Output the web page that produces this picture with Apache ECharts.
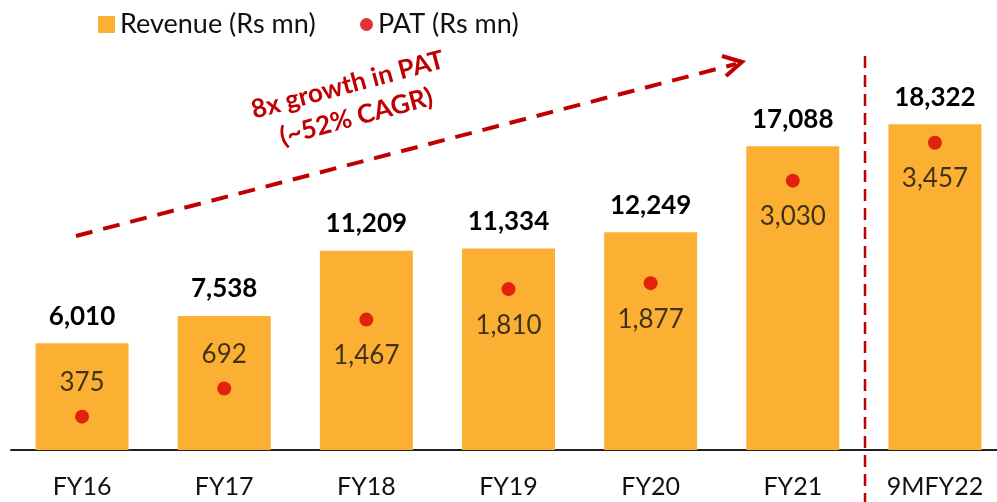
<!DOCTYPE html>
<html>
<head>
<meta charset="utf-8">
<script src="https://cdn.jsdelivr.net/npm/echarts@6/dist/echarts.min.js"></script>
<style>
  html, body { margin: 0; padding: 0; background: #fff; }
  #chart { width: 997px; height: 502px; }
</style>
</head>
<body>
<div id="chart"></div>
<script>
var categories = ['FY16', 'FY17', 'FY18', 'FY19', 'FY20', 'FY21', '9MFY22'];
var revenue = [6010, 7538, 11209, 11334, 12249, 17088, 18322];
var pat = [375, 692, 1467, 1810, 1877, 3030, 3457];
// which PAT labels sit above the dot
var patLabelPos = ['top', 'top', 'bottom', 'bottom', 'bottom', 'bottom', 'bottom'];

var fmt = function (v) { return v.toLocaleString('en-US'); };
var font = 'Lato';
var red = '#C00000';

var myChart = echarts.init(document.getElementById('chart'));

var option = {
  animation: false,
  textStyle: { fontFamily: font },
  legend: [{
    data: ['Revenue (Rs mn)'],
    left: 93, top: 6,
    itemWidth: 17, itemHeight: 17,
    icon: 'rect',
    textStyle: { fontSize: 27, color: '#111', fontFamily: font, padding: [0, 0, 0, 0] }
  }, {
    data: ['PAT (Rs mn)'],
    left: 355, top: 6,
    itemWidth: 13, itemHeight: 13,
    icon: 'circle',
    textStyle: { fontSize: 27, color: '#111', fontFamily: font, padding: [0, 0, 0, 0] }
  }],
  grid: { left: 11, right: -9, top: 50, bottom: 52, outerBoundsMode: 'none' },
  xAxis: {
    type: 'category',
    data: categories,
    axisTick: { show: false },
    axisLine: { lineStyle: { color: '#222', width: 2 } },
    axisLabel: { fontSize: 25, color: '#111', margin: 24, fontFamily: font }
  },
  yAxis: [
    { type: 'value', min: 0, max: 22500, show: false, splitLine: { show: false } },
    { type: 'value', min: 0, max: 4500, show: false, splitLine: { show: false } }
  ],
  series: [{
    name: 'Revenue (Rs mn)',
    type: 'bar',
    data: revenue,
    barWidth: 93,
    itemStyle: { color: '#FBB034' },
    label: {
      show: true, position: 'top', distance: 14,
      fontSize: 26, fontWeight: 'bold', color: '#000', fontFamily: font,
      formatter: function (p) { return fmt(p.value); }
    }
  }, {
    name: 'PAT (Rs mn)',
    type: 'scatter',
    yAxisIndex: 1,
    symbolSize: 14,
    itemStyle: { color: '#DA0000' },
    data: pat.map(function (v, i) {
      return {
        value: v,
        label: { position: patLabelPos[i], distance: patLabelPos[i] == 'top' ? 14 : 16 }
      };
    }),
    label: {
      show: true,
      fontSize: 26, color: '#111', fontFamily: font,
      formatter: function (p) { return fmt(p.value); }
    }
  }],
  graphic: [
    // growth arrow
    {
      type: 'line',
      shape: { x1: 76, y1: 236, x2: 736, y2: 64 },
      style: { stroke: red, lineWidth: 4, lineDash: [17, 11] }
    },
    {
      type: 'polyline',
      shape: { points: [[722, 56], [742, 62], [726, 76]] },
      style: { stroke: red, lineWidth: 4, fill: null }
    },
    {
      type: 'text',
      x: 352, y: 101, rotation: 15 * Math.PI / 180,
      style: {
        text: '8x growth in PAT\n(~52% CAGR)',
        fill: red, font: 'bold 26px Lato',
        align: 'center', verticalAlign: 'middle', lineHeight: 33
      }
    },
    // separator between full years and 9M
    {
      type: 'line',
      shape: { x1: 865, y1: 56, x2: 865, y2: 502 },
      style: { stroke: red, lineWidth: 2.5, lineDash: [12, 7] }
    }
  ]
};
myChart.setOption(option);
</script>
</body>
</html>
